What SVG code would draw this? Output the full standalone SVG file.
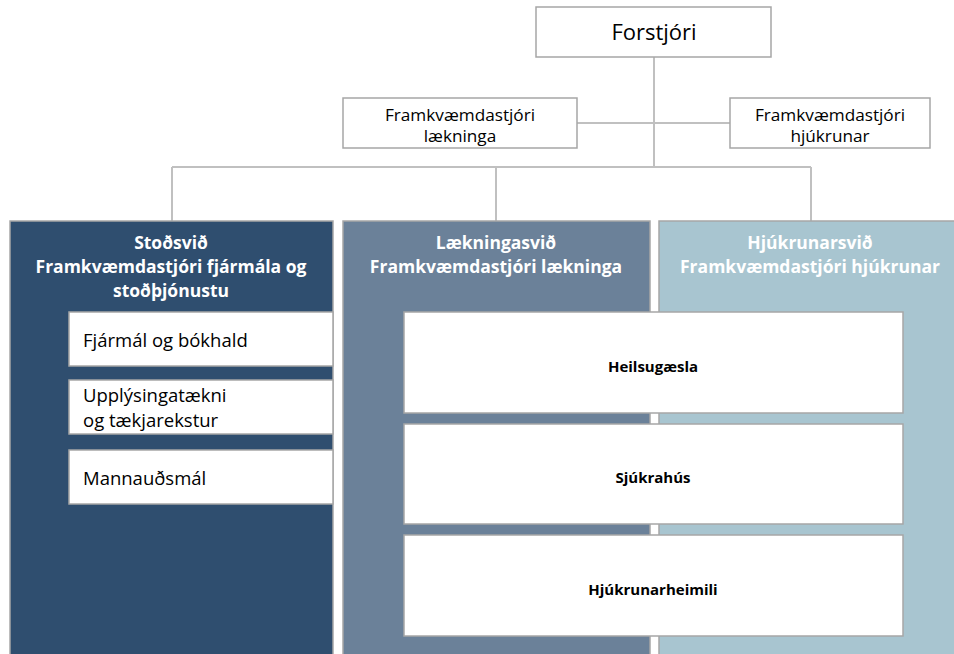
<svg xmlns="http://www.w3.org/2000/svg" width="954" height="654" viewBox="0 0 954 654">
<style>
.box{fill:#fff;stroke:#a6a6a6;stroke-width:1.5}
.col{stroke:#a6a6a6;stroke-width:1.5}
.conn{stroke:#c0c0c0;stroke-width:2;fill:none}
.t{font-family:"Open Sans","Noto Sans",sans-serif;fill:#000}
.h{font-family:"Open Sans","Noto Sans",sans-serif;font-weight:bold;fill:#fff;font-size:17.5px;text-anchor:middle}
.b{font-family:"Open Sans","Noto Sans",sans-serif;font-weight:bold;fill:#000;font-size:15px;text-anchor:middle}
.s{font-size:18.5px}
.m{font-size:17.2px;text-anchor:middle}
</style>
<rect width="954" height="654" fill="#fff"/>
<g id="connectors">
<line class="conn" x1="654" y1="57" x2="654" y2="167"/>
<line class="conn" x1="577" y1="123" x2="730" y2="123"/>
<line class="conn" x1="172" y1="167" x2="811" y2="167"/>
<line class="conn" x1="172" y1="167" x2="172" y2="221"/>
<line class="conn" x1="496" y1="167" x2="496" y2="221"/>
<line class="conn" x1="811" y1="167" x2="811" y2="221"/>
</g>
<g id="forstjori">
<rect class="box" x="536" y="7" width="235" height="50"/>
<text class="t" x="654" y="40" font-size="22" text-anchor="middle">Forstjóri</text>
</g>
<g id="fr-laekninga">
<rect class="box" x="343" y="98" width="234" height="50"/>
<text class="t m" x="460" y="121">Framkvæmdastjóri</text>
<text class="t m" x="460" y="142">lækninga</text>
</g>
<g id="fr-hjukrunar">
<rect class="box" x="730" y="98" width="200" height="50"/>
<text class="t m" x="830" y="121">Framkvæmdastjóri</text>
<text class="t m" x="830" y="142">hjúkrunar</text>
</g>
<g id="stodsvid">
<rect class="col" x="10" y="221" width="323" height="440" fill="#2f4e6f"/>
<text class="h" x="171" y="249">Stoðsvið</text>
<text class="h" x="171" y="273">Framkvæmdastjóri fjármála og</text>
<text class="h" x="171" y="297">stoðþjónustu</text>
</g>
<g id="laekningasvid">
<rect class="col" x="343" y="221" width="307" height="440" fill="#6b8199"/>
<text class="h" x="496" y="249">Lækningasvið</text>
<text class="h" x="496" y="273">Framkvæmdastjóri lækninga</text>
</g>
<g id="hjukrunarsvid">
<rect class="col" x="659" y="221" width="300" height="440" fill="#a8c5d0"/>
<text class="h" x="810" y="249">Hjúkrunarsvið</text>
<text class="h" x="810" y="273">Framkvæmdastjóri hjúkrunar</text>
</g>
<g id="fjarmal">
<rect class="box" x="69" y="312" width="264" height="54"/>
<text class="t s" x="83" y="347">Fjármál og bókhald</text>
</g>
<g id="upplysingataekni">
<rect class="box" x="69" y="380" width="264" height="54"/>
<text class="t s" x="83" y="402">Upplýsingatækni</text>
<text class="t s" x="83" y="427">og tækjarekstur</text>
</g>
<g id="mannaudsmal">
<rect class="box" x="69" y="450" width="264" height="54"/>
<text class="t s" x="83" y="485">Mannauðsmál</text>
</g>
<g id="heilsugaesla">
<rect class="box" x="404" y="312" width="499" height="101"/>
<text class="b" x="653" y="372">Heilsugæsla</text>
</g>
<g id="sjukrahus">
<rect class="box" x="404" y="424" width="499" height="100"/>
<text class="b" x="653" y="483">Sjúkrahús</text>
</g>
<g id="hjukrunarheimili">
<rect class="box" x="404" y="535" width="499" height="101"/>
<text class="b" x="653" y="595">Hjúkrunarheimili</text>
</g>
</svg>
